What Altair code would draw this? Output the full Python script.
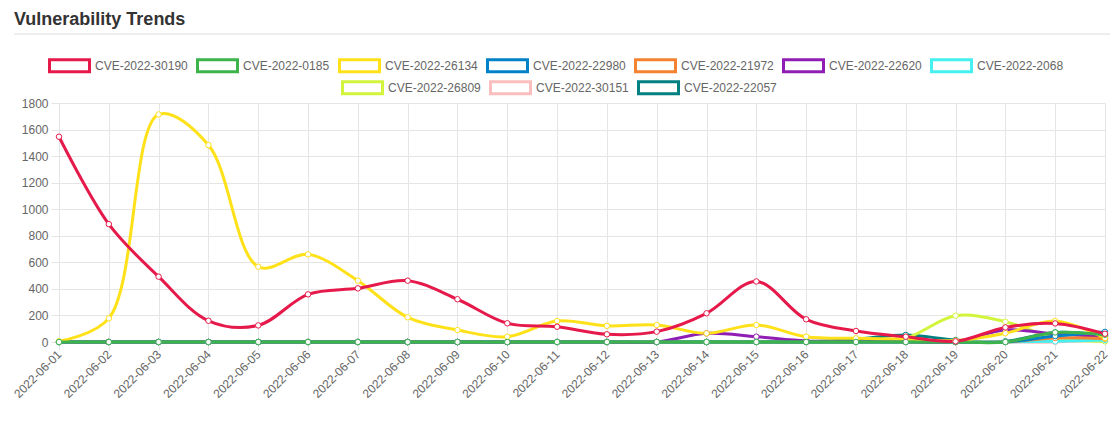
import altair as alt
import pandas as pd

dates = [f"2022-06-{d:02d}" for d in range(1, 23)]

series_names = [
    "CVE-2022-30190", "CVE-2022-0185", "CVE-2022-26134", "CVE-2022-22980",
    "CVE-2022-21972", "CVE-2022-22620", "CVE-2022-2068", "CVE-2022-26809",
    "CVE-2022-30151", "CVE-2022-22057",
]
series_colors = [
    "#e6194b", "#3cb44b", "#ffe119", "#0082c8", "#f58231",
    "#911eb4", "#46f0f0", "#d2f53c", "#fabebe", "#008080",
]

cve_30190 = [1546, 888, 492, 160, 125, 359, 404, 462, 322, 141, 115, 58, 78, 216, 456, 171, 83, 40, 5, 110, 140, 62]
cve_0185 = [0, 0, 0, 0, 0, 0, 0, 0, 0, 0, 0, 0, 0, 0, 0, 0, 0, 0, 0, 0, 72, 55]
cve_26134 = [5, 178, 1714, 1483, 567, 660, 462, 186, 90, 40, 158, 122, 128, 65, 128, 40, 28, 22, 10, 66, 158, 30]
cve_22980 = [0, 0, 0, 0, 0, 0, 0, 0, 0, 0, 0, 0, 0, 0, 0, 0, 0, 0, 0, 0, 45, 76]
cve_21972 = [0, 0, 0, 0, 0, 0, 0, 0, 0, 0, 0, 0, 0, 0, 0, 0, 0, 0, 0, 0, 30, 25]
cve_22620 = [0, 0, 0, 0, 0, 0, 0, 0, 0, 0, 0, 0, 0, 65, 40, 8, 5, 3, 3, 90, 62, 40]
cve_2068 = [0, 0, 0, 0, 0, 0, 0, 0, 0, 0, 0, 0, 0, 0, 0, 0, 0, 0, 0, 0, 5, 15]
cve_26809 = [0, 0, 0, 0, 0, 0, 0, 0, 0, 0, 0, 0, 0, 0, 0, 0, 0, 30, 198, 153, 30, 5]
cve_30151 = [0, 0, 0, 0, 0, 0, 0, 0, 0, 0, 0, 0, 0, 0, 0, 0, 0, 0, 0, 0, 0, 20]
cve_22057 = [0, 0, 0, 0, 0, 0, 0, 0, 0, 0, 0, 0, 0, 0, 0, 0, 20, 53, 15, 5, 72, 50]

all_values = [cve_30190, cve_0185, cve_26134, cve_22980, cve_21972,
              cve_22620, cve_2068, cve_26809, cve_30151, cve_22057]

y_ticks = [0, 200, 400, 600, 800, 1000, 1200, 1400, 1600, 1800]

FONT = "Liberation Sans"
GRID = "#e5e5e5"


def make_df(indices):
    rows = []
    # reverse so the first dataset is drawn last (on top)
    for i in reversed(indices):
        for d, v in zip(dates, all_values[i]):
            rows.append({"date": d, "value": v, "series": series_names[i]})
    return pd.DataFrame(rows)


x_enc = alt.X(
    "date:N",
    scale=alt.Scale(type="point", padding=0),
    axis=alt.Axis(
        title=None, labelAngle=-45, labelAlign="right", labelBaseline="middle",
        labelPadding=2, tickSize=8, tickColor=GRID, gridColor=GRID,
        domain=False, labelFont=FONT, labelFontSize=12, labelColor="#666",
        grid=True,
    ),
)
y_enc = alt.Y(
    "value:Q",
    scale=alt.Scale(domain=[0, 1800], nice=False),
    axis=alt.Axis(
        title=None, values=y_ticks, format="d", tickSize=8, tickColor=GRID,
        gridColor=GRID, domain=False, labelFont=FONT, labelFontSize=12,
        labelColor="#666", labelPadding=3,
    ),
)

box_path = "M-1,-0.3L1,-0.3L1,0.3L-1,0.3Z"


def series_layer(indices, legend_x, legend_y):
    names = [series_names[i] for i in indices]
    cols = [series_colors[i] for i in indices]
    return alt.Chart(make_df(indices)).mark_line(
        interpolate="catmull-rom", strokeWidth=3,
        point=alt.OverlayMarkDef(filled=False, fill="white", size=30, strokeWidth=1),
    ).encode(
        x=x_enc,
        y=y_enc,
        color=alt.Color(
            "series:N",
            scale=alt.Scale(domain=names, range=cols),
            legend=alt.Legend(
                title=None, orient="none", direction="horizontal",
                columns=len(names), legendX=legend_x, legendY=legend_y,
                symbolType=box_path, symbolSize=1600, symbolStrokeWidth=3,
                symbolFillColor="white", labelOffset=4, columnPadding=3,
                labelFont=FONT, labelFontSize=12, labelColor="#666",
                labelLimit=300,
            ),
        ),
    )


layer_a = series_layer([0, 1, 2, 3, 4, 5, 6], -11, -59)
layer_b = series_layer([7, 8, 9], 282, -37)

one = pd.DataFrame({"k": [0]})
title_text = alt.Chart(one).mark_text(
    text="Vulnerability Trends", font=FONT, fontSize=18, fontWeight="bold",
    color="#333", align="left", baseline="alphabetic",
).encode(x=alt.value(-45), y=alt.value(-78))
hr = alt.Chart(one).mark_rule(color="#dddddd", strokeWidth=1).encode(
    x=alt.value(-45), x2=alt.value(1051), y=alt.value(-69)
)

chart = alt.layer(title_text, hr, layer_b, layer_a).resolve_scale(
    color="independent"
).properties(
    width=1046, height=239,
    autosize=alt.AutoSizeParams(type="none"),
    padding={"left": 59, "top": 103, "right": 13, "bottom": 86},
).configure_view(stroke=None)

chart.save("out.html", embed_options={"renderer": "svg", "actions": False})
